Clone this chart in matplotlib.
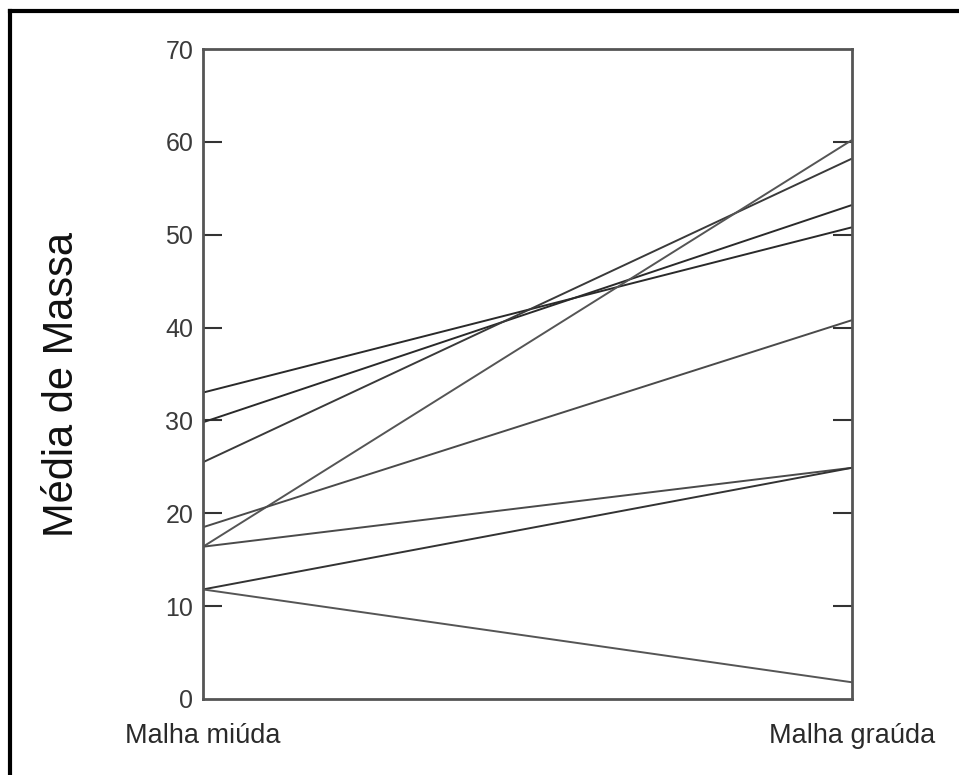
import matplotlib.pyplot as plt
from matplotlib.lines import Line2D

# mean mass per sample: fine mesh (left) -> coarse mesh (right)
categories = ['Malha miúda', 'Malha graúda']
fine_mesh = [33.0, 29.8, 25.5, 16.4, 18.5, 16.4, 11.8, 11.8]
coarse_mesh = [50.8, 53.2, 58.2, 60.2, 40.8, 24.9, 24.9, 1.8]
line_colors = ['#2a2a2a', '#2a2a2a', '#3a3a3a', '#555555',
               '#4a4a4a', '#4a4a4a', '#333333', '#555555']
y_ticks = [0, 10, 20, 30, 40, 50, 60, 70]

plt.rcParams['font.family'] = ['Liberation Sans', 'DejaVu Sans']

fig = plt.figure(figsize=(9.59, 7.75), dpi=100)
ax = fig.add_axes([203 / 959, 76 / 775, 649 / 959, 650 / 775])

for a, b, c in zip(fine_mesh, coarse_mesh, line_colors):
    ax.plot([0, 1], [a, b], color=c, lw=1.4, solid_capstyle='butt')

ax.set_xlim(0, 1)
ax.set_ylim(0, 70)
ax.set_yticks(y_ticks)
ax.set_yticklabels([str(t) for t in y_ticks], fontsize=18, color='#3a3a3a')
ax.tick_params(axis='y', direction='in', length=14, width=1.5, color='#333333',
               right=True, pad=7)
# no tick marks on the frame corners (0 and 70)
for tk in ax.yaxis.get_major_ticks():
    if tk.get_loc() in (0, 70):
        tk.tick1line.set_visible(False)
        tk.tick2line.set_visible(False)

ax.set_xticks([0, 1])
ax.set_xticklabels(categories, fontsize=19.5, color='#2a2a2a')
ax.tick_params(axis='x', length=0, pad=17)

for s in ax.spines.values():
    s.set_color('#555555')
    s.set_linewidth(2)

ax.set_ylabel('Média de Massa', fontsize=30, color='#111111')
ax.yaxis.set_label_coords(-0.186, 0.484)

# outer frame (only top and left edges are inside the picture)
fig.add_artist(Line2D([10 / 959, 10 / 959], [0, 1 - 11 / 775],
                      transform=fig.transFigure, color='black', lw=3))
fig.add_artist(Line2D([10 / 959, 1], [1 - 11 / 775, 1 - 11 / 775],
                      transform=fig.transFigure, color='black', lw=3))

fig.savefig('out.png', dpi=100, facecolor='white')
